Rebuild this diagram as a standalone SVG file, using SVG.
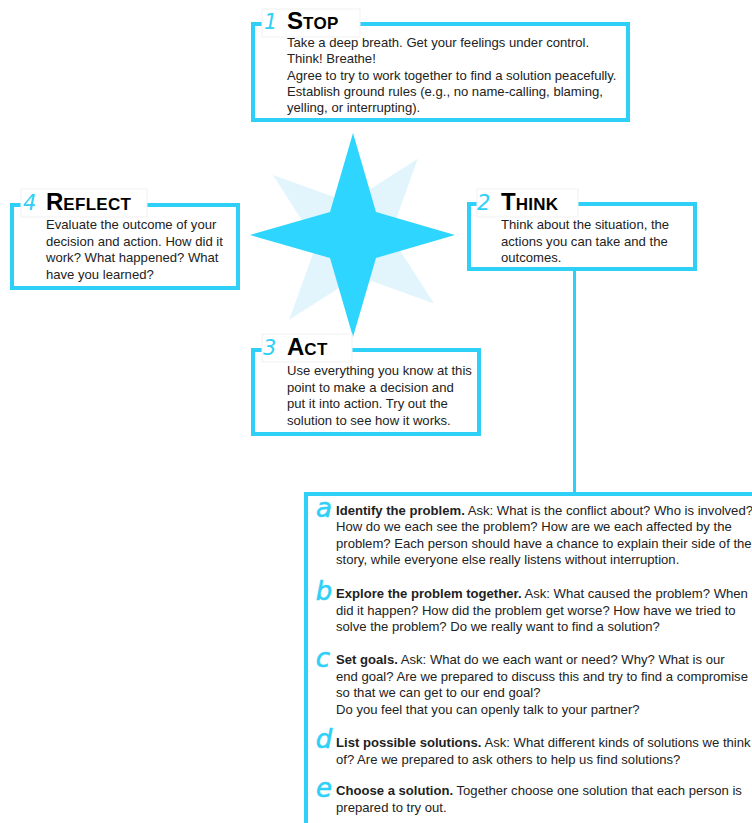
<svg xmlns="http://www.w3.org/2000/svg" width="752" height="823" viewBox="0 0 752 823">
  <style>
    .frame { fill: none; stroke: #2fd0f7; stroke-width: 4; }
    .link { fill: none; stroke: #2fd0f7; stroke-width: 3; }
    .label-bg { fill: #ffffff; stroke: #f1f1f1; stroke-width: 1; }
    .num { font-family: "DejaVu Sans", "Liberation Sans", sans-serif; font-style: italic; font-size: 21px; fill: #2fd0f7; }
    .letter { font-family: "DejaVu Sans", "Liberation Sans", sans-serif; font-style: italic; font-size: 26px; fill: #2fd0f7; text-anchor: middle; stroke: #2fd0f7; stroke-width: 0.6; }
    .title { font-family: "Liberation Sans", Arial, sans-serif; font-weight: bold; font-size: 17px; fill: #000000; letter-spacing: 0.3px; }
    .cap { font-size: 24px; letter-spacing: 0; }
    .body { font-family: "Liberation Sans", Arial, sans-serif; font-size: 13.1px; fill: #222222; }
    .b { font-weight: bold; }
  </style>

  <rect width="752" height="823" fill="#ffffff"/>

  <!-- compass star in the middle of the cycle -->
  <g id="star">
    <polygon fill="#e2f5fc" points="273,175 349.4,202.5 417.8,158.8 390.3,235.2 434,303.6 357.6,276.1 289.2,319.8 316.7,243.4"/>
    <polygon fill="#2ed6ff" points="353,133 376,212 455,235 376,258 353,337 330,258 250,235 330,212"/>
  </g>

  <!-- link from THINK down to the list of steps -->
  <g id="connectors">
    <line class="link" x1="574.5" y1="271" x2="574.5" y2="494"/>
  </g>

  <!-- 1 STOP -->
  <g id="stop">
    <rect class="frame" x="253" y="24" width="375" height="96"/>
    <rect class="label-bg" x="262" y="9" width="98" height="28"/>
    <text class="num" x="264" y="29">1</text>
    <text class="title" x="287" y="29"><tspan class="cap">S</tspan>TOP</text>
    <text class="body" x="287" y="47">Take a deep breath. Get your feelings under control.</text>
    <text class="body" x="287" y="63.3">Think! Breathe!</text>
    <text class="body" x="287" y="79.6">Agree to try to work together to find a solution peacefully.</text>
    <text class="body" x="287" y="95.9">Establish ground rules (e.g., no name-calling, blaming,</text>
    <text class="body" x="287" y="112.2">yelling, or interrupting).</text>
  </g>

  <!-- 4 REFLECT -->
  <g id="reflect">
    <rect class="frame" x="12" y="205" width="226" height="83"/>
    <rect class="label-bg" x="21" y="189" width="126" height="28"/>
    <text class="num" x="23" y="210">4</text>
    <text class="title" x="46" y="210"><tspan class="cap">R</tspan>EFLECT</text>
    <text class="body" x="46" y="229">Evaluate the outcome of your</text>
    <text class="body" x="46" y="245.5">decision and action. How did it</text>
    <text class="body" x="46" y="262">work? What happened? What</text>
    <text class="body" x="46" y="278.5">have you learned?</text>
  </g>

  <!-- 2 THINK -->
  <g id="think">
    <rect class="frame" x="469" y="204" width="226" height="65"/>
    <rect class="label-bg" x="477" y="189" width="101" height="28"/>
    <text class="num" x="477" y="210">2</text>
    <text class="title" x="501" y="210"><tspan class="cap">T</tspan>HINK</text>
    <text class="body" x="501" y="229">Think about the situation, the</text>
    <text class="body" x="501" y="245.5">actions you can take and the</text>
    <text class="body" x="501" y="262">outcomes.</text>
  </g>

  <!-- 3 ACT -->
  <g id="act">
    <rect class="frame" x="253" y="350" width="226" height="84"/>
    <rect class="label-bg" x="262" y="334" width="90" height="28"/>
    <text class="num" x="263" y="355">3</text>
    <text class="title" x="287" y="355"><tspan class="cap">A</tspan>CT</text>
    <text class="body" x="287" y="375">Use everything you know at this</text>
    <text class="body" x="287" y="391.5">point to make a decision and</text>
    <text class="body" x="287" y="408">put it into action. Try out the</text>
    <text class="body" x="287" y="424.5">solution to see how it works.</text>
  </g>

  <!-- steps for thinking the conflict through -->
  <g id="steps">
    <path class="frame" d="M306 830 V494 H760"/>

    <g id="step-a">
      <text class="letter" x="324" y="517">a</text>
      <text class="body" x="336" y="514.5"><tspan class="b">Identify the problem.</tspan> Ask: What is the conflict about? Who is involved?</text>
      <text class="body" x="336" y="531">How do we each see the problem? How are we each affected by the</text>
      <text class="body" x="336" y="547.5">problem? Each person should have a chance to explain their side of the</text>
      <text class="body" x="336" y="564">story, while everyone else really listens without interruption.</text>
    </g>

    <g id="step-b">
      <text class="letter" x="324" y="600">b</text>
      <text class="body" x="336" y="598"><tspan class="b">Explore the problem together.</tspan> Ask: What caused the problem? When</text>
      <text class="body" x="336" y="614.5">did it happen? How did the problem get worse? How have we tried to</text>
      <text class="body" x="336" y="631">solve the problem? Do we really want to find a solution?</text>
    </g>

    <g id="step-c">
      <text class="letter" x="323" y="667">c</text>
      <text class="body" x="336" y="664"><tspan class="b">Set goals.</tspan> Ask: What do we each want or need? Why? What is our</text>
      <text class="body" x="336" y="680.5">end goal? Are we prepared to discuss this and try to find a compromise</text>
      <text class="body" x="336" y="697">so that we can get to our end goal?</text>
      <text class="body" x="336" y="713.5">Do you feel that you can openly talk to your partner?</text>
    </g>

    <g id="step-d">
      <text class="letter" x="324" y="748">d</text>
      <text class="body" x="336" y="747"><tspan class="b">List possible solutions.</tspan> Ask: What different kinds of solutions we think</text>
      <text class="body" x="336" y="763.5">of? Are we prepared to ask others to help us find solutions?</text>
    </g>

    <g id="step-e">
      <text class="letter" x="324" y="797">e</text>
      <text class="body" x="336" y="795"><tspan class="b">Choose a solution.</tspan> Together choose one solution that each person is</text>
      <text class="body" x="336" y="811.5">prepared to try out.</text>
    </g>
  </g>
</svg>
